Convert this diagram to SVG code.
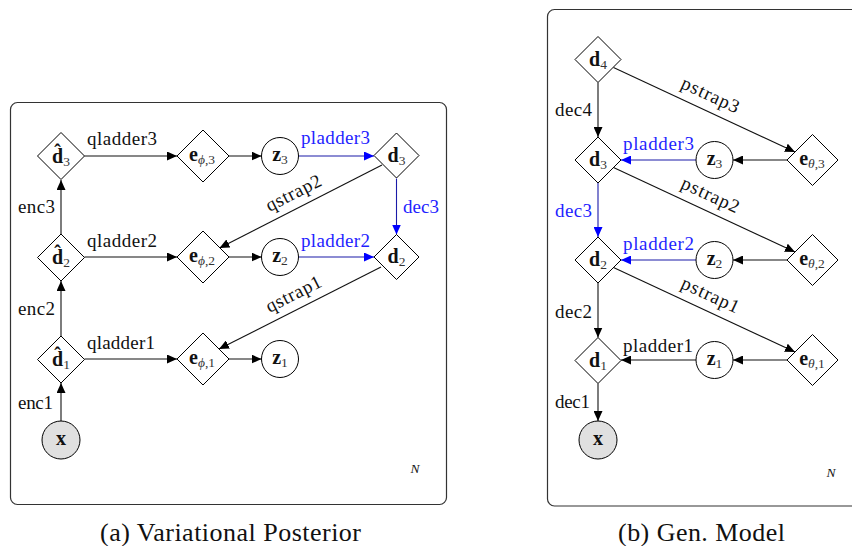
<svg xmlns="http://www.w3.org/2000/svg" width="852" height="546" viewBox="0 0 852 546">
  <style>
    .plate { fill: none; stroke: #333; stroke-width: 1.2; }
    .node { fill: #fff; stroke: #000; stroke-width: 1; }
    .obs { fill: #e0e0e0; stroke: #000; stroke-width: 1; }
    .edge { fill: none; stroke: #111; stroke-width: 1.1; marker-end: url(#ah); }
    .bedge { fill: none; stroke: #1a1aa8; stroke-width: 1.1; marker-end: url(#ahb); }
    .lab { font-size: 19px; text-anchor: middle; fill: #111; }
    .blue { fill: #1f1fff; }
    .nl { font-size: 20px; font-weight: bold; text-anchor: middle; fill: #111; }
    .sub { font-size: 13.5px; font-weight: normal; fill: #333; }
    .it { font-style: italic; }
    .plN { font-size: 13.5px; font-style: italic; text-anchor: middle; fill: #111; }
    .cap { font-size: 26px; text-anchor: middle; fill: #111; }
  </style>
  <defs>
    <marker id="ah" viewBox="0 0 10 9" refX="10" refY="4.5" markerWidth="10" markerHeight="9" markerUnits="userSpaceOnUse" orient="auto">
      <path d="M0,0 L10,4.5 L0,9 Z" fill="#000"/>
    </marker>
    <marker id="ahb" viewBox="0 0 10 9" refX="10" refY="4.5" markerWidth="10" markerHeight="9" markerUnits="userSpaceOnUse" orient="auto">
      <path d="M0,0 L10,4.5 L0,9 Z" fill="#0000ff"/>
    </marker>
  </defs>

  <g font-family="'Liberation Serif', 'Times New Roman', serif">
  <!-- plates -->
  <rect class="plate" x="10.5" y="102.5" width="436" height="402" rx="7"/>
  <rect class="plate" x="547.5" y="9.5" width="330" height="496.5" rx="7"/>
  <text class="plN" x="415" y="473">N</text>
  <text class="plN" x="831" y="477">N</text>

  <!-- (a) connectors -->
  <g id="edges-a">
    <line class="edge" x1="61" y1="421" x2="61" y2="383"/>
    <line class="edge" x1="61" y1="336" x2="61" y2="281"/>
    <line class="edge" x1="61" y1="234" x2="61" y2="180"/>
    <line class="edge" x1="84.5" y1="156" x2="177" y2="156"/>
    <line class="edge" x1="229" y1="156" x2="261.5" y2="156"/>
    <line class="bedge" x1="298.5" y1="156" x2="374" y2="156"/>
    <line class="bedge" x1="396.5" y1="178.5" x2="396.5" y2="234.5"/>
    <line class="edge" x1="382" y1="165" x2="219.5" y2="248"/>
    <line class="edge" x1="84.5" y1="257" x2="177" y2="257"/>
    <line class="edge" x1="229" y1="257" x2="261.5" y2="257"/>
    <line class="bedge" x1="298.5" y1="257" x2="374" y2="257"/>
    <line class="edge" x1="381" y1="267" x2="219" y2="349"/>
    <line class="edge" x1="84.5" y1="359" x2="177" y2="359"/>
    <line class="edge" x1="229" y1="359" x2="261.5" y2="359"/>

    <text class="lab" x="36.5" y="213" textLength="37" lengthAdjust="spacing">enc3</text>
    <text class="lab" x="36.5" y="315" textLength="37" lengthAdjust="spacing">enc2</text>
    <text class="lab" x="35.5" y="409" textLength="35" lengthAdjust="spacing">enc1</text>
    <text class="lab" x="122" y="145" textLength="70" lengthAdjust="spacing">qladder3</text>
    <text class="lab" x="122" y="247" textLength="70" lengthAdjust="spacing">qladder2</text>
    <text class="lab" x="121" y="349" textLength="68" lengthAdjust="spacing">qladder1</text>
    <text class="lab blue" x="335.5" y="144" textLength="69" lengthAdjust="spacing">pladder3</text>
    <text class="lab blue" x="335.5" y="247" textLength="69" lengthAdjust="spacing">pladder2</text>
    <text class="lab blue" x="421" y="213" textLength="36" lengthAdjust="spacing">dec3</text>
    <text class="lab" transform="translate(294,194) rotate(-27)" x="0" y="5" textLength="60" lengthAdjust="spacing">qstrap2</text>
    <text class="lab" transform="translate(294,295) rotate(-26.8)" x="0" y="5" textLength="60" lengthAdjust="spacing">qstrap1</text>
  </g>

  <!-- (a) nodes -->
  <g id="a-x"><circle class="obs" cx="61" cy="440" r="19"/><text class="nl" x="61" y="445">x</text></g>
  <g id="a-dh1"><path class="node" d="M61,336 L84.5,359.5 L61,383 L37.5,359.5 Z"/><text class="nl" x="61" y="366">d̂<tspan class="sub" dy="3">1</tspan></text></g>
  <g id="a-dh2"><path class="node" d="M61,234 L84.5,257.5 L61,281 L37.5,257.5 Z"/><text class="nl" x="61" y="264">d̂<tspan class="sub" dy="3">2</tspan></text></g>
  <g id="a-dh3"><path class="node" d="M61,132.5 L84.5,156 L61,179.5 L37.5,156 Z"/><text class="nl" x="61" y="162.5">d̂<tspan class="sub" dy="3">3</tspan></text></g>
  <g id="a-e3"><path class="node" d="M203,130 L229,156 L203,182 L177,156 Z"/><text class="nl" x="202" y="161">e<tspan class="sub" dy="3"><tspan class="it">ϕ</tspan>,3</tspan></text></g>
  <g id="a-e2"><path class="node" d="M203,231 L229,257 L203,283 L177,257 Z"/><text class="nl" x="202" y="262">e<tspan class="sub" dy="3"><tspan class="it">ϕ</tspan>,2</tspan></text></g>
  <g id="a-e1"><path class="node" d="M203,333 L229,359 L203,385 L177,359 Z"/><text class="nl" x="202" y="364">e<tspan class="sub" dy="3"><tspan class="it">ϕ</tspan>,1</tspan></text></g>
  <g id="a-z3"><circle class="node" cx="280" cy="156" r="18.5"/><text class="nl" x="280" y="161">z<tspan class="sub" dy="3">3</tspan></text></g>
  <g id="a-z2"><circle class="node" cx="280" cy="257" r="18.5"/><text class="nl" x="280" y="262">z<tspan class="sub" dy="3">2</tspan></text></g>
  <g id="a-z1"><circle class="node" cx="280" cy="359" r="18.5"/><text class="nl" x="280" y="364">z<tspan class="sub" dy="3">1</tspan></text></g>
  <g id="a-d3"><path class="node" d="M396.5,133 L419,155.5 L396.5,178 L374,155.5 Z"/><text class="nl" x="396.5" y="161.5">d<tspan class="sub" dy="3">3</tspan></text></g>
  <g id="a-d2"><path class="node" d="M396.5,234.5 L419,257 L396.5,279.5 L374,257 Z"/><text class="nl" x="396.5" y="263">d<tspan class="sub" dy="3">2</tspan></text></g>

  <!-- (b) connectors -->
  <g id="edges-b">
    <line class="edge" x1="598" y1="82.5" x2="598" y2="137"/>
    <line class="edge" x1="613.5" y1="67.5" x2="795" y2="152"/>
    <line class="edge" x1="787" y1="160" x2="733" y2="160"/>
    <line class="bedge" x1="696" y1="160" x2="621" y2="160"/>
    <line class="bedge" x1="598" y1="183" x2="598" y2="237"/>
    <line class="edge" x1="613.5" y1="167.5" x2="795" y2="252"/>
    <line class="edge" x1="787" y1="260" x2="733" y2="260"/>
    <line class="bedge" x1="696" y1="260" x2="621" y2="260"/>
    <line class="edge" x1="598" y1="283" x2="598" y2="337.5"/>
    <line class="edge" x1="613.5" y1="267.5" x2="795" y2="352"/>
    <line class="edge" x1="787" y1="360" x2="733" y2="360"/>
    <line class="edge" x1="696" y1="360" x2="621" y2="360"/>
    <line class="edge" x1="598" y1="383.5" x2="598" y2="421"/>

    <text class="lab" x="573.5" y="116" textLength="37" lengthAdjust="spacing">dec4</text>
    <text class="lab blue" x="658.5" y="150" textLength="71" lengthAdjust="spacing">pladder3</text>
    <text class="lab blue" x="573.5" y="217" textLength="37" lengthAdjust="spacing">dec3</text>
    <text class="lab blue" x="658.5" y="250" textLength="71" lengthAdjust="spacing">pladder2</text>
    <text class="lab" x="573.5" y="318" textLength="37" lengthAdjust="spacing">dec2</text>
    <text class="lab" x="658" y="352" textLength="70" lengthAdjust="spacing">pladder1</text>
    <text class="lab" x="572.5" y="408" textLength="35" lengthAdjust="spacing">dec1</text>
    <text class="lab" transform="translate(710,96) rotate(25)" x="0" y="5" textLength="62" lengthAdjust="spacing">pstrap3</text>
    <text class="lab" transform="translate(710,196) rotate(25)" x="0" y="5" textLength="62" lengthAdjust="spacing">pstrap2</text>
    <text class="lab" transform="translate(710,296) rotate(25)" x="0" y="5" textLength="62" lengthAdjust="spacing">pstrap1</text>
  </g>

  <!-- (b) nodes -->
  <g id="b-d4"><path class="node" d="M598,36.5 L621,59.5 L598,82.5 L575,59.5 Z"/><text class="nl" x="598" y="65.5">d<tspan class="sub" dy="3">4</tspan></text></g>
  <g id="b-d3"><path class="node" d="M598,137 L621,160 L598,183 L575,160 Z"/><text class="nl" x="598" y="166">d<tspan class="sub" dy="3">3</tspan></text></g>
  <g id="b-d2"><path class="node" d="M598,237 L621,260 L598,283 L575,260 Z"/><text class="nl" x="598" y="266">d<tspan class="sub" dy="3">2</tspan></text></g>
  <g id="b-d1"><path class="node" d="M598,337.5 L621,360.5 L598,383.5 L575,360.5 Z"/><text class="nl" x="598" y="366.5">d<tspan class="sub" dy="3">1</tspan></text></g>
  <g id="b-x"><circle class="obs" cx="598" cy="440" r="19"/><text class="nl" x="598" y="445">x</text></g>
  <g id="b-z3"><circle class="node" cx="714.5" cy="160" r="18.5"/><text class="nl" x="714.5" y="165">z<tspan class="sub" dy="3">3</tspan></text></g>
  <g id="b-z2"><circle class="node" cx="714.5" cy="260" r="18.5"/><text class="nl" x="714.5" y="265">z<tspan class="sub" dy="3">2</tspan></text></g>
  <g id="b-z1"><circle class="node" cx="714.5" cy="360" r="18.5"/><text class="nl" x="714.5" y="365">z<tspan class="sub" dy="3">1</tspan></text></g>
  <g id="b-e3"><path class="node" d="M812.5,134.5 L838,160 L812.5,185.5 L787,160 Z"/><text class="nl" x="812" y="165">e<tspan class="sub" dy="3"><tspan class="it">θ</tspan>,3</tspan></text></g>
  <g id="b-e2"><path class="node" d="M812.5,234.5 L838,260 L812.5,285.5 L787,260 Z"/><text class="nl" x="812" y="265">e<tspan class="sub" dy="3"><tspan class="it">θ</tspan>,2</tspan></text></g>
  <g id="b-e1"><path class="node" d="M812.5,334.5 L838,360 L812.5,385.5 L787,360 Z"/><text class="nl" x="812" y="365">e<tspan class="sub" dy="3"><tspan class="it">θ</tspan>,1</tspan></text></g>

  <!-- captions -->
  <text class="cap" x="230.5" y="541" textLength="261" lengthAdjust="spacing">(a) Variational Posterior</text>
  <text class="cap" x="701.5" y="541" textLength="167" lengthAdjust="spacing">(b) Gen. Model</text>
  </g>
</svg>
